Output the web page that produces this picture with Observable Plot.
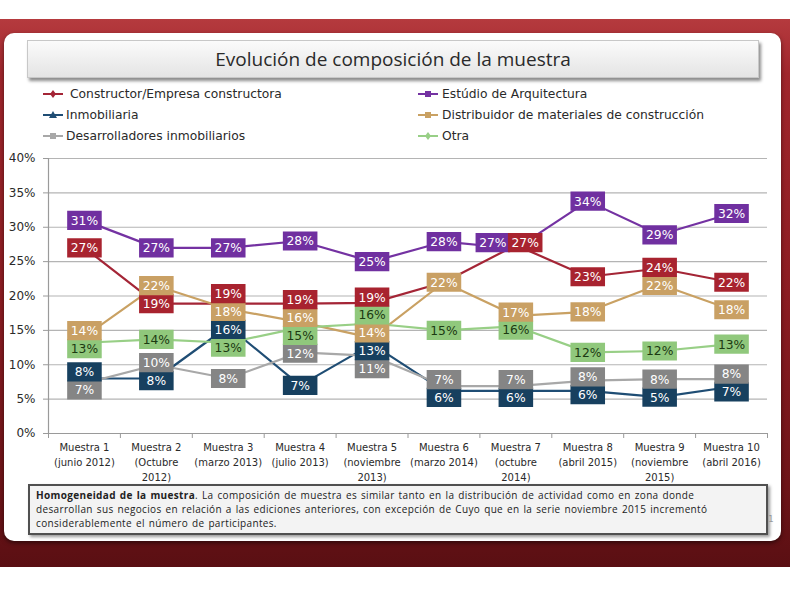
<!DOCTYPE html>
<html><head><meta charset="utf-8">
<script src="https://cdn.jsdelivr.net/npm/d3@7"></script>
<script src="https://cdn.jsdelivr.net/npm/@observablehq/plot@0.6"></script>
<style>
html,body{margin:0;padding:0;background:#fff;}
#page{position:relative;width:790px;height:591px;overflow:hidden;font-family:"DejaVu Sans",sans-serif;}
#slide{position:absolute;left:0;top:19px;width:790px;height:548px;
  background:linear-gradient(180deg,#b53a3e 0%,#a0262c 10%,#8c1c22 50%,#6e1418 85%,#5a0f13 100%);}
#panel{position:absolute;left:4px;top:33px;width:777px;height:508px;background:#fff;border-radius:10px;box-shadow:0 2px 4px rgba(0,0,0,.5);}
#title{position:absolute;left:27px;top:40px;width:730px;height:36px;background:linear-gradient(180deg,#fbfbfb,#e4e4e4);
  border:1px solid #c8c8c8;box-shadow:2px 3px 3px rgba(0,0,0,.45);text-align:center;line-height:36px;
  font-family:"Open Sans",sans-serif;font-size:19px;color:#2a2a2a;}
.leg{position:absolute;font-size:12.3px;color:#2a2a2a;height:18px;line-height:18px;white-space:nowrap;}
.leg svg{position:absolute;left:0;top:4px;}
.leg span{position:absolute;top:0;}
#chart{position:absolute;left:0;top:150px;}
#caption{position:absolute;left:28px;top:484px;width:724px;height:44px;border:2px solid #505050;background:#f3f3f3;
  box-shadow:2px 2px 3px rgba(0,0,0,.4);padding:2px 6px 1px 6px;font-family:"Open Sans",sans-serif;font-size:10px;
  letter-spacing:0.35px;word-spacing:1px;line-height:14px;color:#222;white-space:nowrap;}
#pnum{position:absolute;left:768px;top:514px;font-size:9px;color:#999;}
</style></head>
<body>
<div id="page">
  <div id="slide"></div>
  <div id="panel"></div>
  <div id="title">Evolución de composición de la muestra</div>
  <div id="legend"></div>
  <div id="chart"></div>
  <div id="caption"><b>Homogeneidad de la muestra</b>. La composición de muestra es similar tanto en la distribución de actividad como en zona donde<br>desarrollan sus negocios en relación a las ediciones anteriores, con excepción de Cuyo que en la serie noviembre 2015 incrementó<br>considerablemente el número de participantes.</div>
  <div id="pnum">1</div>
</div>
<script>
// ---------- data ----------
const categories = [
  "Muestra 1\n(junio 2012)", "Muestra 2\n(Octubre\n2012)", "Muestra 3\n(marzo 2013)", "Muestra 4\n(julio 2013)",
  "Muestra 5\n(noviembre\n2013)", "Muestra 6\n(marzo 2014)", "Muestra 7\n(octubre\n2014)", "Muestra 8\n(abril 2015)",
  "Muestra 9\n(noviembre\n2015)", "Muestra 10\n(abril 2016)"
];
const seriesNames = [
  "Constructor/Empresa constructora", "Estúdio de Arquitectura", "Inmobiliaria",
  "Distribuidor de materiales de construcción", "Desarrolladores inmobiliarios", "Otra"
];
// line values (%)
const constructora    = [27, 18.9, 18.9, 18.9, 19, 22, 27.4, 22.8, 24, 22];
const estudio         = [31, 27, 27, 28, 25, 27.9, 26.9, 33.8, 28.9, 32];
const inmobiliaria    = [8, 8, 15.6, 7, 13, 6.2, 6.2, 6.2, 5.3, 6.8];
const distribuidor    = [14.1, 21.5, 18.1, 16.2, 13.9, 22, 17.1, 17.7, 21.7, 18];
const desarrolladores = [7.3, 10, 8, 11.8, 11.3, 6.9, 6.9, 7.7, 7.9, 7.9];
const otra            = [13.2, 13.7, 13.2, 15.4, 16, 15, 15.6, 11.8, 12, 13];
// printed data labels (%), null = hidden
const constructoraLbl    = [27, 19, 19, 19, 19, null, 27, 23, 24, 22];
const estudioLbl         = [31, 27, 27, 28, 25, 28, 27, 34, 29, 32];
const inmobiliariaLbl    = [8, 8, 16, 7, 13, 6, 6, 6, 5, 7];
const distribuidorLbl    = [14, 22, 18, 16, 14, 22, 17, 18, 22, 18];
const desarrolladoresLbl = [7, 10, 8, 12, 11, 7, 7, 8, 8, 8];
const otraLbl            = [13, 14, 13, 15, 16, 15, 16, 12, 12, 13];
const yTicks = [0, 5, 10, 15, 20, 25, 30, 35, 40];

// ---------- styles ----------
const lineColors = ["#a42536", "#7432a2", "#1f4d74", "#c9a163", "#a8a8a8", "#98cf86"];
const boxColors  = ["#a8232f", "#7030a0", "#17405f", "#c9a064", "#858585", "#90c87c"];
const textColors = ["#fff", "#fff", "#fff", "#fff", "#fff", "#1c3a12"];
const markers    = ["diamond", "square", "triangle", "square", "square", "diamond"];

const values = [constructora, estudio, inmobiliaria, distribuidor, desarrolladores, otra];
const labels = [constructoraLbl, estudioLbl, inmobiliariaLbl, distribuidorLbl, desarrolladoresLbl, otraLbl];

// ---------- legend (HTML) ----------
function markerSvg(kind, color) {
  let m;
  if (kind === "diamond") m = `<path d="M10,1 L13,5 L10,9 L7,5Z" fill="${color}"/>`;
  else if (kind === "triangle") m = `<path d="M10,1 L14,8 L6,8Z" fill="${color}"/>`;
  else m = `<rect x="7" y="2" width="6" height="6" fill="${color}"/>`;
  return `<svg width="20" height="10"><line x1="0" y1="5" x2="20" y2="5" stroke="${color}" stroke-width="2"/>${m}</svg>`;
}
const legendPos = [[43, 85, 70], [418, 85, 442], [43, 106, 66], [418, 106, 442], [43, 127, 66], [418, 127, 442]];
const legend = document.getElementById("legend");
seriesNames.forEach((name, k) => {
  const [lx, ty, tx] = legendPos[k];
  const d = document.createElement("div");
  d.className = "leg";
  d.style.left = lx + "px"; d.style.top = ty + "px";
  d.innerHTML = markerSvg(markers[k], lineColors[k]) + `<span style="left:${tx - lx}px">${name}</span>`;
  legend.appendChild(d);
});

// ---------- tables ----------
const lineRows = [];
values.forEach((arr, k) => arr.forEach((v, i) => lineRows.push({series: seriesNames[k], x: i + 1, v, stroke: lineColors[k]})));

// label layout: spread overlapping labels vertically, pair near-equal ones side by side
const minSep = 2.6, sameTol = 0.6;
const labelRows = [];
categories.forEach((c, i) => {
  const items = [];
  values.forEach((arr, k) => {
    if (labels[k][i] != null) items.push({k, v: arr[i], x: i + 1, text: labels[k][i] + "%",
      fill: boxColors[k], color: textColors[k]});
  });
  items.sort((a, b) => a.v - b.v);
  const groups = [];
  for (const it of items) {
    const g = groups[groups.length - 1];
    if (g && g.items.length === 1 && it.v - g.items[0].v < sameTol) { g.items.push(it); g.y = (g.y + it.v) / 2 + 0.6; }
    else groups.push({items: [it], y: it.v});
  }
  for (let iter = 0; iter < 400; iter++) {
    let moved = false;
    for (let j = 0; j < groups.length - 1; j++) {
      const gap = groups[j + 1].y - groups[j].y;
      if (gap < minSep - 1e-6) { const d = (minSep - gap) / 2; groups[j].y -= d; groups[j + 1].y += d; moved = true; }
    }
    if (!moved) break;
  }
  groups.forEach(g => {
    if (g.items.length === 2) { g.items[0].x = i + 1 - 0.32; g.items[1].x = i + 1 + 0.13; }
    g.items.forEach(it => labelRows.push({...it, y: g.y}));
  });
});

const rectSymbol = {
  draw(context, size) {
    const r = Math.sqrt(size / Math.PI);
    context.rect(-r * 1.8, -r, r * 3.6, r * 2);
  }
};

const plot = Plot.plot({
  width: 790,
  height: 335,
  marginLeft: 48,
  marginRight: 23,
  marginTop: 8,
  marginBottom: 52,
  style: {fontFamily: "DejaVu Sans, sans-serif", background: "transparent", color: "#2a2a2a"},
  x: {type: "linear", domain: [0.5, 10.5], axis: null},
  y: {domain: [0, 40], axis: null},
  marks: [
    Plot.gridY(yTicks.filter(t => t > 0), {stroke: "#b4b4b4", strokeOpacity: 1, strokeWidth: 1.2}),
    Plot.ruleY([0], {stroke: "#9a9a9a", strokeWidth: 1.2}),
    Plot.ruleX([0.5], {stroke: "#9a9a9a", strokeWidth: 1.2}),
    Plot.axisY({ticks: yTicks, tickFormat: d => d + "%", tickSize: 5, tickPadding: 8, fontSize: 12, stroke: "#9a9a9a", label: null}),
    Plot.axisX({ticks: d3.range(0.5, 11, 1), tickFormat: () => "", tickSize: 5, stroke: "#9a9a9a", label: null}),
    Plot.axisX({ticks: d3.range(1, 11), tickFormat: i => categories[i - 1], tickSize: 0, tickPadding: 7,
      fontSize: 10, lineHeight: 1.5, label: null}),
    Plot.line(lineRows, {x: "x", y: "v", z: "series", stroke: "stroke", strokeWidth: 2.2}),
    Plot.dot(labelRows, {x: "x", y: "y", r: 9.6, symbol: rectSymbol, fill: "fill", stroke: "none"}),
    Plot.text(labelRows, {x: "x", y: "y", text: "text", fill: "color", fontSize: 12.3, dy: 0.5})
  ]
});
document.getElementById("chart").appendChild(plot);
</script>
</body></html>
